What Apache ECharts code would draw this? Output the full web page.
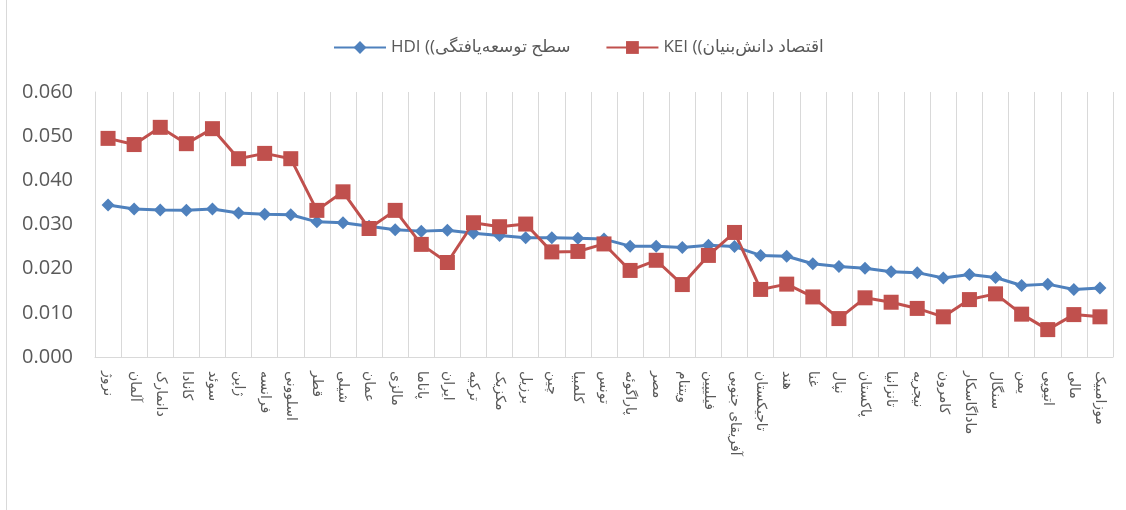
<!DOCTYPE html>
<html>
<head>
<meta charset="utf-8">
<script src="https://cdn.jsdelivr.net/npm/echarts@6/dist/echarts.min.js"></script>
<style>
  html, body { margin: 0; padding: 0; background: #fff; }
  #chart-line { width: 1126px; height: 510px; }
</style>
</head>
<body>
<div id="chart-line"></div>
<script>
// 数据
var countries = ['نروژ', 'آلمان', 'دانمارک', 'کانادا', 'سوئد', 'ژاپن', 'فرانسه', 'اسلوونی', 'قطر', 'شیلی',
    'عمان', 'مالزی', 'پاناما', 'ایران', 'ترکیه', 'مکزیک', 'برزیل', 'چین', 'کلمبیا', 'تونس',
    'پاراگوئه', 'مصر', 'ویتنام', 'فیلیپین', 'آفریقای جنوبی', 'تاجیکستان', 'هند', 'غنا', 'نپال', 'پاکستان',
    'تانزانیا', 'نیجریه', 'کامرون', 'ماداگاسکار', 'سنگال', 'یمن', 'اتیوپی', 'مالی', 'موزامبیک']
var hdiValues = [0.0344, 0.0335, 0.0333, 0.0332, 0.0335, 0.0326, 0.0323, 0.0322, 0.0306, 0.0304,
    0.0296, 0.0288, 0.0285, 0.0287, 0.0280, 0.0275, 0.0270, 0.0270, 0.0269, 0.0267,
    0.0251, 0.0251, 0.0248, 0.0253, 0.0250, 0.0230, 0.0228, 0.0211, 0.0205, 0.0201,
    0.0193, 0.0191, 0.0179, 0.0187, 0.0180, 0.0162, 0.0165, 0.0153, 0.0156]
var keiValues = [0.0495, 0.0481, 0.0520, 0.0483, 0.0517, 0.0449, 0.0461, 0.0449, 0.0332, 0.0374,
    0.0291, 0.0332, 0.0255, 0.0214, 0.0304, 0.0295, 0.0301, 0.0238, 0.0239, 0.0256,
    0.0196, 0.0219, 0.0164, 0.0230, 0.0282, 0.0153, 0.0165, 0.0136, 0.0087, 0.0134,
    0.0124, 0.0110, 0.0091, 0.0130, 0.0143, 0.0097, 0.0062, 0.0096, 0.0091]
var hdiName = 'HDI ((سطح توسعه‌یافتگی'
var keiName = 'KEI ((اقتصاد دانش‌بنیان'

var textColor = '#595959'
var gridColor = '#d9d9d9'
var font = '"Open Sans", "DejaVu Sans", sans-serif'

var option = {
    animation: false,
    color: ['#4f81bd', '#c0504d'],
    graphic: [{
        type: 'line',
        shape: { x1: 6.5, y1: 0, x2: 6.5, y2: 510 },
        style: { stroke: gridColor, lineWidth: 1 }
    }],
    legend: {
        left: 328,
        top: 34,
        itemWidth: 52,
        itemHeight: 16,
        itemGap: 35,
        textStyle: { color: textColor, fontSize: 17, fontFamily: font },
        data: [hdiName, keiName]
    },
    grid: { left: 95, right: 13, top: 92, bottom: 153 },
    xAxis: {
        type: 'category',
        data: countries,
        boundaryGap: true,
        axisLine: { lineStyle: { color: gridColor, width: 1 } },
        axisTick: { show: false },
        axisLabel: {
            interval: 0,
            rotate: -90,
            margin: 14,
            color: textColor,
            fontSize: 14,
            fontFamily: '"DejaVu Sans", sans-serif'
        },
        splitLine: { show: true, interval: 0, lineStyle: { color: gridColor, width: 1 } }
    },
    yAxis: {
        type: 'value',
        min: 0,
        max: 0.06,
        interval: 0.01,
        axisLine: { show: true, lineStyle: { color: gridColor, width: 1 } },
        axisTick: { show: false },
        splitLine: { show: false },
        axisLabel: {
            margin: 22,
            color: textColor,
            fontSize: 20,
            fontFamily: font,
            formatter: function(v) { return v.toFixed(3) }
        }
    },
    series: [{
        name: hdiName,
        type: 'line',
        data: hdiValues,
        symbol: 'diamond',
        symbolSize: 13,
        lineStyle: { width: 3 },
        itemStyle: { color: '#4f81bd' }
    }, {
        name: keiName,
        type: 'line',
        data: keiValues,
        symbol: 'rect',
        symbolSize: 15,
        lineStyle: { width: 3 },
        itemStyle: { color: '#c0504d' }
    }]
}
var chart = echarts.init(document.getElementById('chart-line'))
chart.setOption(option)
window.addEventListener('resize', function() {
    chart.resize()
})
</script>
</body>
</html>
